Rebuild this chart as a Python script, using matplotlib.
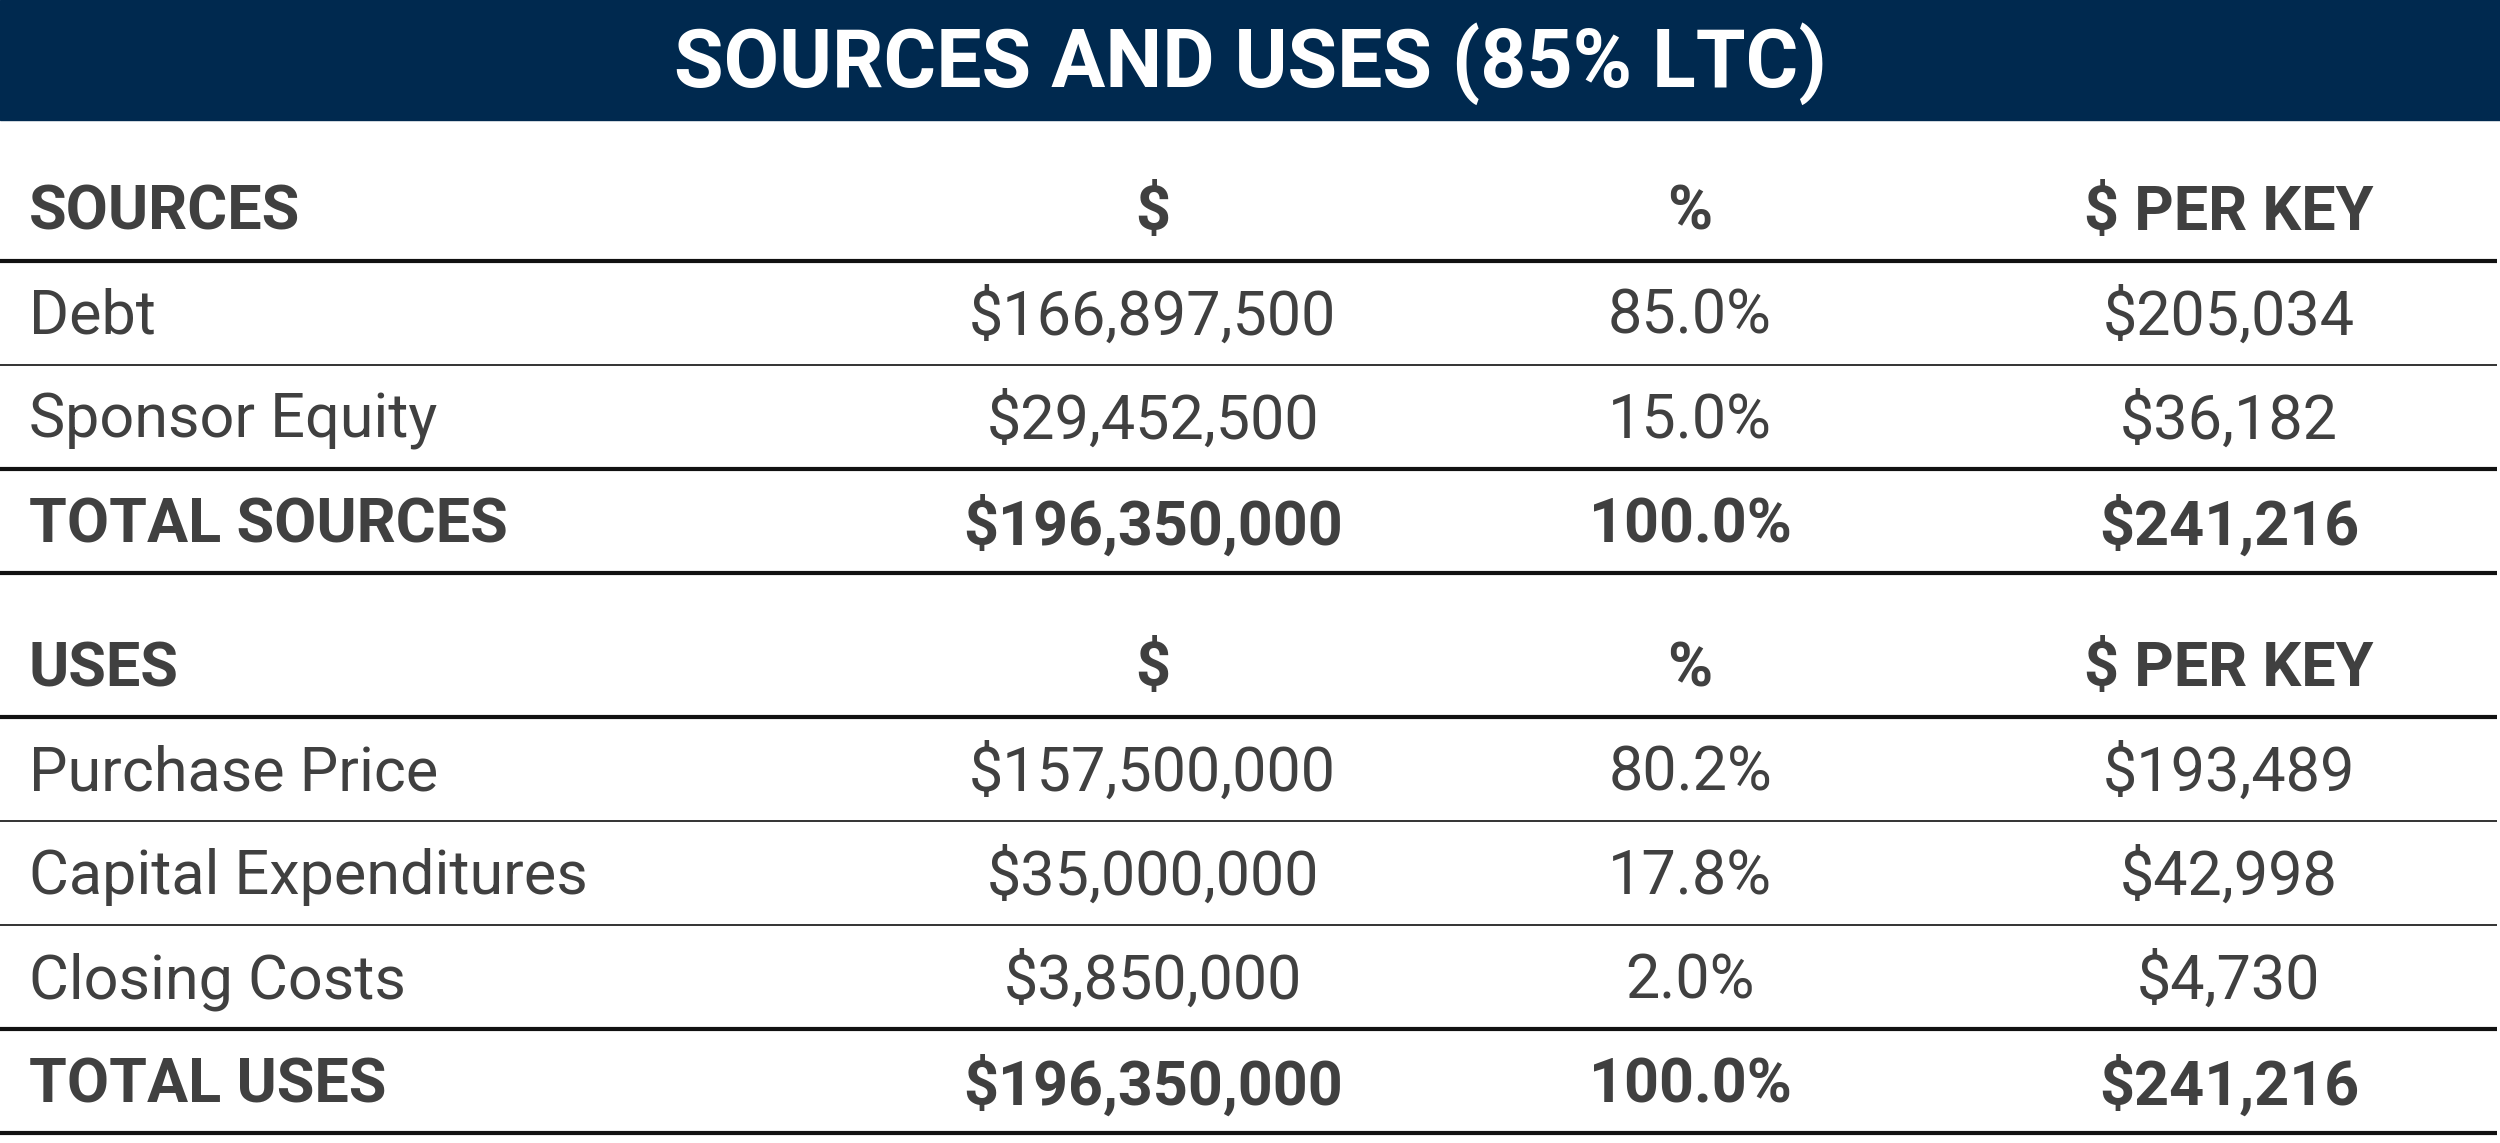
import matplotlib.pyplot as plt

title = "SOURCES AND USES (85% LTC)"
columns = ["$", "%", "$ PER KEY"]

source_rows = ["Debt", "Sponsor Equity"]
source_amt = ["$166,897,500", "$29,452,500"]
source_pct = ["85.0%", "15.0%"]
source_key = ["$205,034", "$36,182"]
source_total = ["TOTAL SOURCES", "$196,350,000", "100.0%", "$241,216"]

use_rows = ["Purchase Price", "Capital Expenditures", "Closing Costs"]
use_amt = ["$157,500,000", "$35,000,000", "$3,850,000"]
use_pct = ["80.2%", "17.8%", "2.0%"]
use_key = ["$193,489", "$42,998", "$4,730"]
use_total = ["TOTAL USES", "$196,350,000", "100.0%", "$241,216"]

NAVY = "#00294f"
TXT = "#404040"
plt.rcParams['font.family'] = ['Roboto', 'DejaVu Sans']

fig = plt.figure(figsize=(25, 11.43), dpi=100)
ax = fig.add_axes([0, 0, 1, 1])
ax.set_xlim(0, 1568)
ax.set_ylim(714, 0)
ax.axis("off")

ax.add_patch(plt.Rectangle((0, 0), 1568, 75, color=NAVY))
ax.text(784, 40, title, color="white", fontsize=58, fontweight="bold", ha="center", va="center")

colx = [723, 1060, 1398]
FS = 44

def line(y, w):
    ax.plot([0, 1566], [y, y], color="#111111", lw=w, solid_capstyle="butt")

def row(y, cells, bold=False):
    wt = "bold" if bold else "normal"
    ax.text(18, y, cells[0], fontsize=FS, color=TXT, fontweight=wt, ha="left", va="center")
    for x, c in zip(colx, cells[1:]):
        ax.text(x, y, c, fontsize=FS, color=TXT, fontweight=wt, ha="center", va="center")

def section(y0, name, labels, amt, pct, key, total):
    row(y0, [name] + columns, bold=True)
    y = y0 + 30
    line(y, 3)
    for i, lab in enumerate(labels):
        row(y + 35, [lab, amt[i], pct[i], key[i]])
        y += 65
        line(y, 3 if i == len(labels) - 1 else 1.2)
    row(y + 35, total, bold=True)
    line(y + 65, 3)

section(133, "SOURCES", source_rows, source_amt, source_pct, source_key, source_total)
section(418, "USES", use_rows, use_amt, use_pct, use_key, use_total)

fig.savefig("out.png", dpi=100)
